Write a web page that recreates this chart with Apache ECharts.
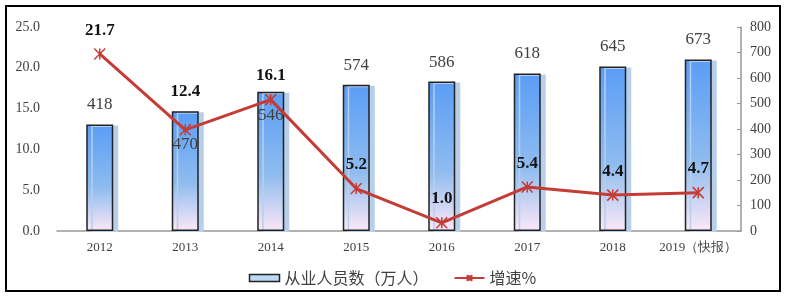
<!DOCTYPE html>
<html><head><meta charset="utf-8">
<script src="https://cdn.jsdelivr.net/npm/echarts@6/dist/echarts.min.js"></script>
<style>html,body{margin:0;padding:0;background:#fff}#c{width:785px;height:299px}</style>
</head><body><div id="c"></div>
<script>
var categories = ['2012','2013','2014','2015','2016','2017','2018','2019（快报）'];
var employees = [418, 470, 546, 574, 586, 618, 645, 673];
var growth = [21.7, 12.4, 16.1, 5.2, 1.0, 5.4, 4.4, 4.7];
var leftTicks = [0, 25, 5];
var rightTicks = [0, 800, 100];

var serif = '"Liberation Serif","DejaVu Serif",serif';
var chart = echarts.init(document.getElementById('c'), null, {renderer:'canvas'});

var barData = employees.map(function(v, i){
  var item = {value: v};
  if (i === 1) item.label = {position: 'insideTop', distance: 25};
  if (i === 2) item.label = {position: 'insideTop', distance: 15};
  return item;
});
var lineData = growth.map(function(v, i){
  var item = {value: v};
  if (i === 1) item.label = {distance: 23};
  return item;
});

chart.setOption({
  animation: false,
  graphic: [{type:'rect', shape:{x:6, y:6, width:774, height:285}, style:{fill:'none', stroke:'#000', lineWidth:2}, z:100}],
  grid: {left: 57, right: 44, top: 27, bottom: 68},
  legend: {
    bottom: 8, left: 'center', itemWidth: 30, itemHeight: 7, itemGap: 25,
    textStyle: {fontFamily: '"Noto Sans CJK SC",sans-serif', fontSize: 16, color: '#404040'},
    data: [
      {name: '从业人员数（万人）', icon: 'rect', itemStyle: {color: '#bcd8f5', borderColor: '#222', borderWidth: 1.5}},
      {name: '增速%'}
    ]
  },
  xAxis: {
    type: 'category', data: categories,
    axisLine: {lineStyle: {color: '#999', width: 1.5}},
    axisTick: {show: false},
    axisLabel: {interval: 0, fontFamily: serif, fontSize: 13, color: '#404040', margin: 10}
  },
  yAxis: [
    {type:'value', min: leftTicks[0], max: leftTicks[1], interval: leftTicks[2],
     splitLine:{show:false}, axisLine:{show:false}, axisTick:{show:false},
     axisLabel:{fontFamily: serif, fontSize: 14, color:'#404040', margin: 17,
       formatter: function(v){return v.toFixed(1);}}},
    {type:'value', min: rightTicks[0], max: rightTicks[1], interval: rightTicks[2],
     splitLine:{show:false}, axisLine:{show:true, lineStyle:{color:'#999', width:1.5}},
     axisTick:{show:true, inside:true, length:4, lineStyle:{color:'#999'}},
     axisLabel:{fontFamily: serif, fontSize: 14, color:'#404040', margin: 9}}
  ],
  series: [
    {
      name: '从业人员数（万人）', type: 'bar', yAxisIndex: 1, data: barData, barWidth: 27,
      itemStyle: {
        color: new echarts.graphic.LinearGradient(0,0,0,1,[
          {offset:0, color:'#5a9df6'},{offset:0.6, color:'#8fbcef'},{offset:1, color:'#fbe8f7'}]),
        borderColor: '#222', borderWidth: 1.5,
        shadowColor: '#b7cfea', shadowOffsetX: 5, shadowOffsetY: 1, shadowBlur: 0
      },
      label: {show: true, position: 'top', distance: 11, fontFamily: serif, fontSize: 17, color: '#404040'}
    },
    {
      name: '增速%', type: 'line', yAxisIndex: 0, data: lineData,
      lineStyle: {color: '#c43c35', width: 3},
      symbol: 'path://M0,0L10,10M10,0L0,10M5,0L5,10', symbolSize: 11,
      itemStyle: {color: '#c43c35', borderColor: '#c43c35', borderWidth: 1.5},
      label: {show: true, position: 'top', distance: 9, fontFamily: serif, fontWeight: 'bold', fontSize: 17, color: '#111',
        formatter: function(p){return Number(p.value).toFixed(1);}},
      z: 5
    }
  ]
});
</script></body></html>
